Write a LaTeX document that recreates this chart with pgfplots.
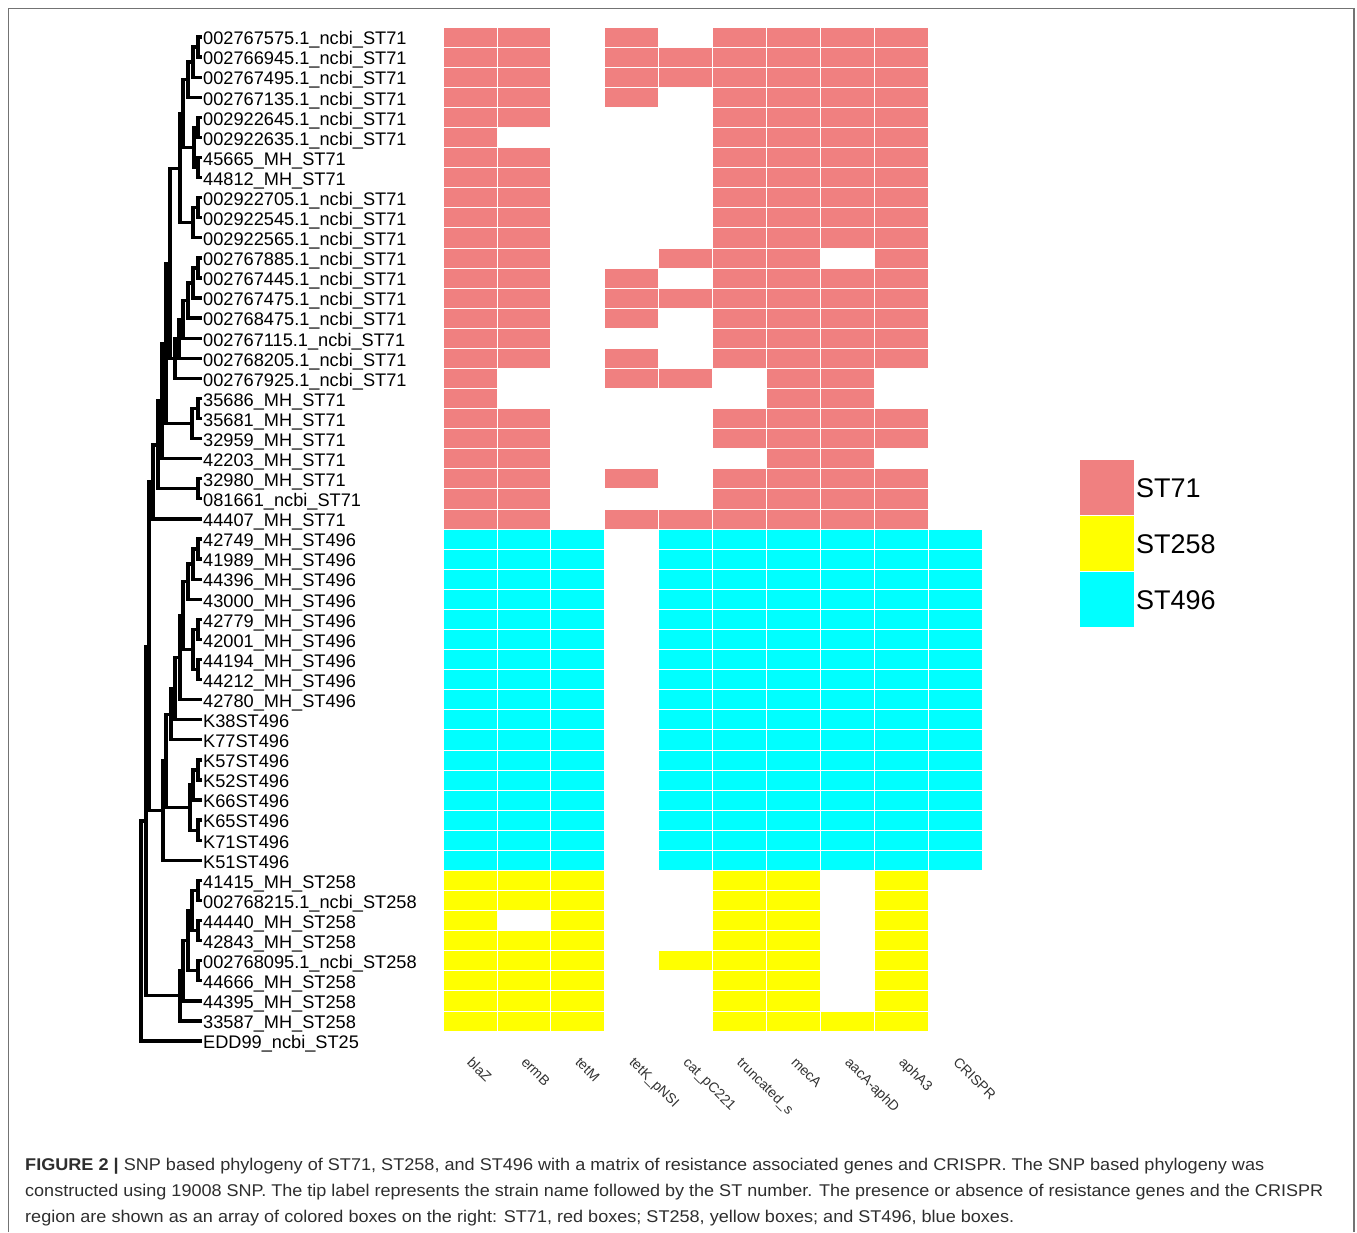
\documentclass[border=0pt]{standalone}
\usepackage{fontspec}
\setmainfont{Liberation Sans}
\usepackage{graphicx}
\usepackage{pgfplots}
\pgfplotsset{compat=1.18}
\definecolor{stA}{RGB}{240,128,128}
\definecolor{stB}{RGB}{255,255,0}
\definecolor{stC}{RGB}{0,255,255}
\pgfdeclareplotmark{cell}{\pgfpathrectangle{\pgfpoint{-26.95pt}{-10.04pt}}{\pgfpoint{53.9pt}{20.08pt}}\pgfusepathqfillstroke}
\newcommand{\tl}[2]{\node[anchor=base west, inner sep=0pt, yshift=-7.8pt, font=\fontsize{18.2}{20}\selectfont] at (axis cs:203,#1) {#2};}
\newcommand{\cl}[2]{\node[rotate=-45, anchor=north west, inner sep=0pt, font=\fontsize{14}{16}\selectfont, text=black!80] at (axis cs:#1,1056) {#2};}
\begin{document}
\begin{tikzpicture}
\useasboundingbox (0pt,0pt) rectangle (1357pt,1232pt);
\begin{axis}[at={(0pt,0pt)}, anchor=south west, width=1357pt, height=1232pt, scale only axis,
  xmin=0, xmax=1357, ymin=0, ymax=1232, y dir=reverse, hide axis, clip=false]
% frame
\draw[black!55, line width=1.3pt] (axis cs:8.5,1232) -- (axis cs:8.5,8.5) -- (axis cs:1354,8.5) -- (axis cs:1354,1232);
% tree
\addplot[black, line width=3.3pt, line join=miter, unbounded coords=jump, mark=none] coordinates {
(202,37) (198,37) (198,57.08) (202,57.08) (0,nan)
(198,47.04) (193,47.04) (193,77.16) (202,77.16) (0,nan)
(193,62.10) (188,62.10) (188,97.24) (202,97.24) (0,nan)
(202,117.32) (198,117.32) (198,137.40) (202,137.40) (0,nan)
(202,157.48) (198,157.48) (198,177.56) (202,177.56) (0,nan)
(198,127.36) (194,127.36) (194,167.52) (198,167.52) (0,nan)
(188,79.67) (183,79.67) (183,147.44) (194,147.44) (0,nan)
(202,197.64) (198,197.64) (198,217.72) (202,217.72) (0,nan)
(198,207.68) (193,207.68) (193,237.80) (202,237.80) (0,nan)
(183,113.56) (180,113.56) (180,222.74) (193,222.74) (0,nan)
(202,257.88) (198,257.88) (198,277.96) (202,277.96) (0,nan)
(198,267.92) (193,267.92) (193,298.04) (202,298.04) (0,nan)
(193,282.98) (188,282.98) (188,318.12) (202,318.12) (0,nan)
(188,300.55) (183,300.55) (183,338.20) (202,338.20) (0,nan)
(183,319.38) (179,319.38) (179,358.28) (202,358.28) (0,nan)
(179,338.83) (175,338.83) (175,378.36) (202,378.36) (0,nan)
(180,168.15) (170,168.15) (170,358.60) (175,358.60) (0,nan)
(202,398.44) (198,398.44) (198,418.52) (202,418.52) (0,nan)
(198,408.48) (192,408.48) (192,438.60) (202,438.60) (0,nan)
(170,263.37) (166,263.37) (166,423.54) (192,423.54) (0,nan)
(166,343.46) (162,343.46) (162,458.68) (202,458.68) (0,nan)
(202,478.76) (198,478.76) (198,498.84) (202,498.84) (0,nan)
(162,401.07) (158,401.07) (158,488.80) (198,488.80) (0,nan)
(158,444.94) (153,444.94) (153,518.92) (202,518.92) (0,nan)
(202,539.00) (198,539.00) (198,559.08) (202,559.08) (0,nan)
(198,549.04) (193,549.04) (193,579.16) (202,579.16) (0,nan)
(193,564.10) (188,564.10) (188,599.24) (202,599.24) (0,nan)
(202,619.32) (198,619.32) (198,639.40) (202,639.40) (0,nan)
(202,659.48) (198,659.48) (198,679.56) (202,679.56) (0,nan)
(198,629.36) (193,629.36) (193,669.52) (198,669.52) (0,nan)
(188,581.67) (183,581.67) (183,649.44) (193,649.44) (0,nan)
(183,615.56) (180,615.56) (180,699.64) (202,699.64) (0,nan)
(180,657.60) (175,657.60) (175,719.72) (202,719.72) (0,nan)
(175,688.66) (171,688.66) (171,739.80) (202,739.80) (0,nan)
(202,759.88) (198,759.88) (198,779.96) (202,779.96) (0,nan)
(198,769.92) (193,769.92) (193,800.04) (202,800.04) (0,nan)
(202,820.12) (198,820.12) (198,840.20) (202,840.20) (0,nan)
(193,784.98) (190,784.98) (190,830.16) (198,830.16) (0,nan)
(171,714.23) (166,714.23) (166,807.57) (190,807.57) (0,nan)
(166,760.90) (163,760.90) (163,860.28) (202,860.28) (0,nan)
(153,481.93) (149,481.93) (149,810.59) (163,810.59) (0,nan)
(202,880.36) (198,880.36) (198,900.44) (202,900.44) (0,nan)
(202,920.52) (198,920.52) (198,940.60) (202,940.60) (0,nan)
(198,890.40) (192,890.40) (192,930.56) (198,930.56) (0,nan)
(202,960.68) (198,960.68) (198,980.76) (202,980.76) (0,nan)
(192,910.48) (188,910.48) (188,970.72) (198,970.72) (0,nan)
(188,940.60) (183,940.60) (183,1000.84) (202,1000.84) (0,nan)
(183,970.72) (180,970.72) (180,1020.92) (202,1020.92) (0,nan)
(149,646.26) (146,646.26) (146,995.82) (180,995.82) (0,nan)
(146,821.04) (141,821.04) (141,1041.00) (202,1041.00)
};
% tip labels
\tl{37.00}{002767575.1\_ncbi\_ST71}
\tl{57.08}{002766945.1\_ncbi\_ST71}
\tl{77.16}{002767495.1\_ncbi\_ST71}
\tl{97.24}{002767135.1\_ncbi\_ST71}
\tl{117.32}{002922645.1\_ncbi\_ST71}
\tl{137.40}{002922635.1\_ncbi\_ST71}
\tl{157.48}{45665\_MH\_ST71}
\tl{177.56}{44812\_MH\_ST71}
\tl{197.64}{002922705.1\_ncbi\_ST71}
\tl{217.72}{002922545.1\_ncbi\_ST71}
\tl{237.80}{002922565.1\_ncbi\_ST71}
\tl{257.88}{002767885.1\_ncbi\_ST71}
\tl{277.96}{002767445.1\_ncbi\_ST71}
\tl{298.04}{002767475.1\_ncbi\_ST71}
\tl{318.12}{002768475.1\_ncbi\_ST71}
\tl{338.20}{002767115.1\_ncbi\_ST71}
\tl{358.28}{002768205.1\_ncbi\_ST71}
\tl{378.36}{002767925.1\_ncbi\_ST71}
\tl{398.44}{35686\_MH\_ST71}
\tl{418.52}{35681\_MH\_ST71}
\tl{438.60}{32959\_MH\_ST71}
\tl{458.68}{42203\_MH\_ST71}
\tl{478.76}{32980\_MH\_ST71}
\tl{498.84}{081661\_ncbi\_ST71}
\tl{518.92}{44407\_MH\_ST71}
\tl{539.00}{42749\_MH\_ST496}
\tl{559.08}{41989\_MH\_ST496}
\tl{579.16}{44396\_MH\_ST496}
\tl{599.24}{43000\_MH\_ST496}
\tl{619.32}{42779\_MH\_ST496}
\tl{639.40}{42001\_MH\_ST496}
\tl{659.48}{44194\_MH\_ST496}
\tl{679.56}{44212\_MH\_ST496}
\tl{699.64}{42780\_MH\_ST496}
\tl{719.72}{K38ST496}
\tl{739.80}{K77ST496}
\tl{759.88}{K57ST496}
\tl{779.96}{K52ST496}
\tl{800.04}{K66ST496}
\tl{820.12}{K65ST496}
\tl{840.20}{K71ST496}
\tl{860.28}{K51ST496}
\tl{880.36}{41415\_MH\_ST258}
\tl{900.44}{002768215.1\_ncbi\_ST258}
\tl{920.52}{44440\_MH\_ST258}
\tl{940.60}{42843\_MH\_ST258}
\tl{960.68}{002768095.1\_ncbi\_ST258}
\tl{980.76}{44666\_MH\_ST258}
\tl{1000.84}{44395\_MH\_ST258}
\tl{1020.92}{33587\_MH\_ST258}
\tl{1041.00}{EDD99\_ncbi\_ST25}
% column labels
\cl{473.5}{blaZ}
\cl{527.5}{ermB}
\cl{581.5}{tetM}
\cl{635.5}{tetK\_pNSI}
\cl{689.5}{cat\_pC221}
\cl{743.5}{truncated\_s}
\cl{797.5}{mecA}
\cl{851.5}{aacA-aphD}
\cl{905.5}{aphA3}
\cl{959.5}{CRISPR}
% legend
\fill[stA, draw=white, line width=0.8pt] (axis cs:1079,459) rectangle (axis cs:1134,515);
\fill[stB, draw=white, line width=0.8pt] (axis cs:1079,515) rectangle (axis cs:1134,571);
\fill[stC, draw=white, line width=0.8pt] (axis cs:1079,571) rectangle (axis cs:1134,627);
\node[anchor=west, inner sep=0pt, font=\fontsize{27}{30}\selectfont] at (axis cs:1136,488) {ST71};
\node[anchor=west, inner sep=0pt, font=\fontsize{27}{30}\selectfont] at (axis cs:1136,544) {ST258};
\node[anchor=west, inner sep=0pt, font=\fontsize{27}{30}\selectfont] at (axis cs:1136,600) {ST496};
% caption
\node[anchor=base west, inner sep=0pt, text=black!82] at (axis cs:25,1170) {\resizebox{1239pt}{\height}{\fontsize{17}{20}\selectfont\textbf{FIGURE 2 |} SNP based phylogeny of ST71, ST258, and ST496 with a matrix of resistance associated genes and CRISPR. The SNP based phylogeny was}};
\node[anchor=base west, inner sep=0pt, text=black!82] at (axis cs:25,1196) {\resizebox{1298pt}{\height}{\fontsize{17}{20}\selectfont constructed using 19008 SNP. The tip label represents the strain name followed by the ST number. The presence or absence of resistance genes and the CRISPR}};
\node[anchor=base west, inner sep=0pt, text=black!82] at (axis cs:25,1222) {\resizebox{989pt}{\height}{\fontsize{17}{20}\selectfont region are shown as an array of colored boxes on the right: ST71, red boxes; ST258, yellow boxes; and ST496, blue boxes.}};
\end{axis}
\begin{axis}[at={(443pt,201pt)}, anchor=south west, width=539pt, height=1004pt, scale only axis,
  xmin=0.5, xmax=10.5, ymin=0.5, ymax=50.5, y dir=reverse, hide axis, clip=false]
% ST71
\addplot[only marks, mark=cell, mark options={fill=stA, draw=white, line width=0.8pt}] coordinates {
(1,1) (2,1) (4,1) (6,1) (7,1) (8,1) (9,1)
(1,2) (2,2) (4,2) (5,2) (6,2) (7,2) (8,2) (9,2)
(1,3) (2,3) (4,3) (5,3) (6,3) (7,3) (8,3) (9,3)
(1,4) (2,4) (4,4) (6,4) (7,4) (8,4) (9,4)
(1,5) (2,5) (6,5) (7,5) (8,5) (9,5)
(1,6) (6,6) (7,6) (8,6) (9,6)
(1,7) (2,7) (6,7) (7,7) (8,7) (9,7)
(1,8) (2,8) (6,8) (7,8) (8,8) (9,8)
(1,9) (2,9) (6,9) (7,9) (8,9) (9,9)
(1,10) (2,10) (6,10) (7,10) (8,10) (9,10)
(1,11) (2,11) (6,11) (7,11) (8,11) (9,11)
(1,12) (2,12) (5,12) (6,12) (7,12) (9,12)
(1,13) (2,13) (4,13) (6,13) (7,13) (8,13) (9,13)
(1,14) (2,14) (4,14) (5,14) (6,14) (7,14) (8,14) (9,14)
(1,15) (2,15) (4,15) (6,15) (7,15) (8,15) (9,15)
(1,16) (2,16) (6,16) (7,16) (8,16) (9,16)
(1,17) (2,17) (4,17) (6,17) (7,17) (8,17) (9,17)
(1,18) (4,18) (5,18) (7,18) (8,18)
(1,19) (7,19) (8,19)
(1,20) (2,20) (6,20) (7,20) (8,20) (9,20)
(1,21) (2,21) (6,21) (7,21) (8,21) (9,21)
(1,22) (2,22) (7,22) (8,22)
(1,23) (2,23) (4,23) (6,23) (7,23) (8,23) (9,23)
(1,24) (2,24) (6,24) (7,24) (8,24) (9,24)
(1,25) (2,25) (4,25) (5,25) (6,25) (7,25) (8,25) (9,25)
};
% ST496
\addplot[only marks, mark=cell, mark options={fill=stC, draw=white, line width=0.8pt}] coordinates {
(1,26) (2,26) (3,26) (5,26) (6,26) (7,26) (8,26) (9,26) (10,26)
(1,27) (2,27) (3,27) (5,27) (6,27) (7,27) (8,27) (9,27) (10,27)
(1,28) (2,28) (3,28) (5,28) (6,28) (7,28) (8,28) (9,28) (10,28)
(1,29) (2,29) (3,29) (5,29) (6,29) (7,29) (8,29) (9,29) (10,29)
(1,30) (2,30) (3,30) (5,30) (6,30) (7,30) (8,30) (9,30) (10,30)
(1,31) (2,31) (3,31) (5,31) (6,31) (7,31) (8,31) (9,31) (10,31)
(1,32) (2,32) (3,32) (5,32) (6,32) (7,32) (8,32) (9,32) (10,32)
(1,33) (2,33) (3,33) (5,33) (6,33) (7,33) (8,33) (9,33) (10,33)
(1,34) (2,34) (3,34) (5,34) (6,34) (7,34) (8,34) (9,34) (10,34)
(1,35) (2,35) (3,35) (5,35) (6,35) (7,35) (8,35) (9,35) (10,35)
(1,36) (2,36) (3,36) (5,36) (6,36) (7,36) (8,36) (9,36) (10,36)
(1,37) (2,37) (3,37) (5,37) (6,37) (7,37) (8,37) (9,37) (10,37)
(1,38) (2,38) (3,38) (5,38) (6,38) (7,38) (8,38) (9,38) (10,38)
(1,39) (2,39) (3,39) (5,39) (6,39) (7,39) (8,39) (9,39) (10,39)
(1,40) (2,40) (3,40) (5,40) (6,40) (7,40) (8,40) (9,40) (10,40)
(1,41) (2,41) (3,41) (5,41) (6,41) (7,41) (8,41) (9,41) (10,41)
(1,42) (2,42) (3,42) (5,42) (6,42) (7,42) (8,42) (9,42) (10,42)
};
% ST258
\addplot[only marks, mark=cell, mark options={fill=stB, draw=white, line width=0.8pt}] coordinates {
(1,43) (2,43) (3,43) (6,43) (7,43) (9,43)
(1,44) (2,44) (3,44) (6,44) (7,44) (9,44)
(1,45) (3,45) (6,45) (7,45) (9,45)
(1,46) (2,46) (3,46) (6,46) (7,46) (9,46)
(1,47) (2,47) (3,47) (5,47) (6,47) (7,47) (9,47)
(1,48) (2,48) (3,48) (6,48) (7,48) (9,48)
(1,49) (2,49) (3,49) (6,49) (7,49) (9,49)
(1,50) (2,50) (3,50) (6,50) (7,50) (8,50) (9,50)
};
\end{axis}
\end{tikzpicture}
\end{document}
